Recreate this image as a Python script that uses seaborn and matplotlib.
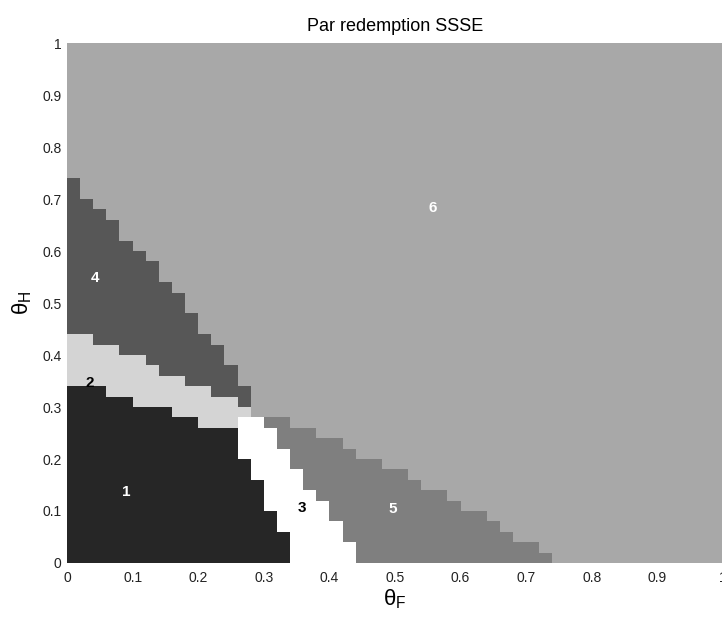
import numpy as np
import matplotlib
matplotlib.use('Agg')
import matplotlib.pyplot as plt
from matplotlib.colors import ListedColormap
import seaborn as sns

# theta_F grid: 50 columns of width 0.02, theta_H rows of height 0.02
n_cells = 50
step = 0.02

# top of each band (theta_H) per column
top_1 = [0.34, 0.34, 0.34, 0.32, 0.32, 0.30, 0.30, 0.30, 0.28, 0.28, 0.26, 0.26, 0.26,
         0.20, 0.16, 0.10, 0.06]                                   # cols 0-16
top_3 = [0.28, 0.28, 0.26, 0.22, 0.18, 0.14, 0.12, 0.08, 0.04]      # cols 13-21
top_5 = [0.28, 0.28, 0.26, 0.26, 0.24, 0.24, 0.22, 0.20, 0.20, 0.18, 0.18, 0.16,
         0.14, 0.14, 0.12, 0.10, 0.10, 0.08, 0.06, 0.04, 0.04, 0.02]  # cols 15-36
top_2 = [0.44, 0.44, 0.42, 0.42, 0.40, 0.40, 0.38, 0.36, 0.36, 0.34, 0.34, 0.32,
         0.32, 0.30]                                               # cols 0-13
top_4 = [0.74, 0.70, 0.68, 0.66, 0.62, 0.60, 0.58, 0.54, 0.52, 0.48, 0.44, 0.42,
         0.38, 0.34]                                               # cols 0-13
first_col = {1: 0, 3: 13, 5: 15, 2: 0, 4: 0}
band_tops = {1: top_1, 3: top_3, 5: top_5, 2: top_2, 4: top_4}
stack_order = [1, 3, 5, 2, 4]   # region 6 fills everything above

region_labels = ['1', '2', '3', '4', '5', '6']
label_x = [0.091, 0.035, 0.358, 0.043, 0.497, 0.558]
label_y = [0.137, 0.346, 0.106, 0.548, 0.104, 0.683]
label_col = ['white', 'black', 'black', 'white', 'white', 'white']

grays = ['#262626', '#d4d4d4', '#ffffff', '#575757', '#7f7f7f', '#a8a8a8']

# build the region map
yc = (np.arange(n_cells) + 0.5) * step
Z = np.full((n_cells, n_cells), 6)
cum = np.zeros(n_cells)
for k in stack_order:
    t = np.zeros(n_cells)
    t[first_col[k]:first_col[k] + len(band_tops[k])] = band_tops[k]
    t = np.maximum(t, cum)
    for i in range(n_cells):
        Z[(yc >= cum[i]) & (yc < t[i]), i] = k
    cum = t

plt.rcParams['font.family'] = ['Liberation Sans', 'DejaVu Sans']
plt.rcParams['mathtext.fontset'] = 'custom'
plt.rcParams['mathtext.rm'] = 'Liberation Sans'
plt.rcParams['mathtext.it'] = 'Liberation Sans'

fig = plt.figure(figsize=(7.22, 6.18), dpi=100)
ax = fig.add_axes([0.0928, 0.089, 0.9086, 0.8414])
sns.heatmap(Z, cmap=ListedColormap(grays), vmin=0.5, vmax=6.5, cbar=False, ax=ax,
            xticklabels=False, yticklabels=False)
ax.invert_yaxis()
ax.set_xlim(0, n_cells); ax.set_ylim(0, n_cells)

ticks = np.arange(0, 11)
tick_txt = ['0'] + ['%.1f' % (t / 10) for t in ticks[1:-1]] + ['1']
ax.set_xticks(ticks * 5); ax.set_xticklabels(tick_txt)
ax.set_yticks(ticks * 5); ax.set_yticklabels(tick_txt, rotation=0)
ax.tick_params(length=0, labelsize=10, labelcolor='#222222')
ax.tick_params(axis='x', pad=5.5)
ax.tick_params(axis='y', pad=4)
for s in ax.spines.values():
    s.set_visible(False)

for txt, lx, ly, c in zip(region_labels, label_x, label_y, label_col):
    ax.text(lx * n_cells, ly * n_cells, txt, color=c, fontsize=11, fontweight='bold',
            ha='center', va='center')

ax.set_title('Par redemption SSSE', fontsize=13, pad=9)
ax.set_xlabel(r'$\theta_F$', fontsize=16, labelpad=2)
ax.set_ylabel(r'$\theta_H$', fontsize=16, labelpad=6)

fig.savefig('out.png', dpi=100)
